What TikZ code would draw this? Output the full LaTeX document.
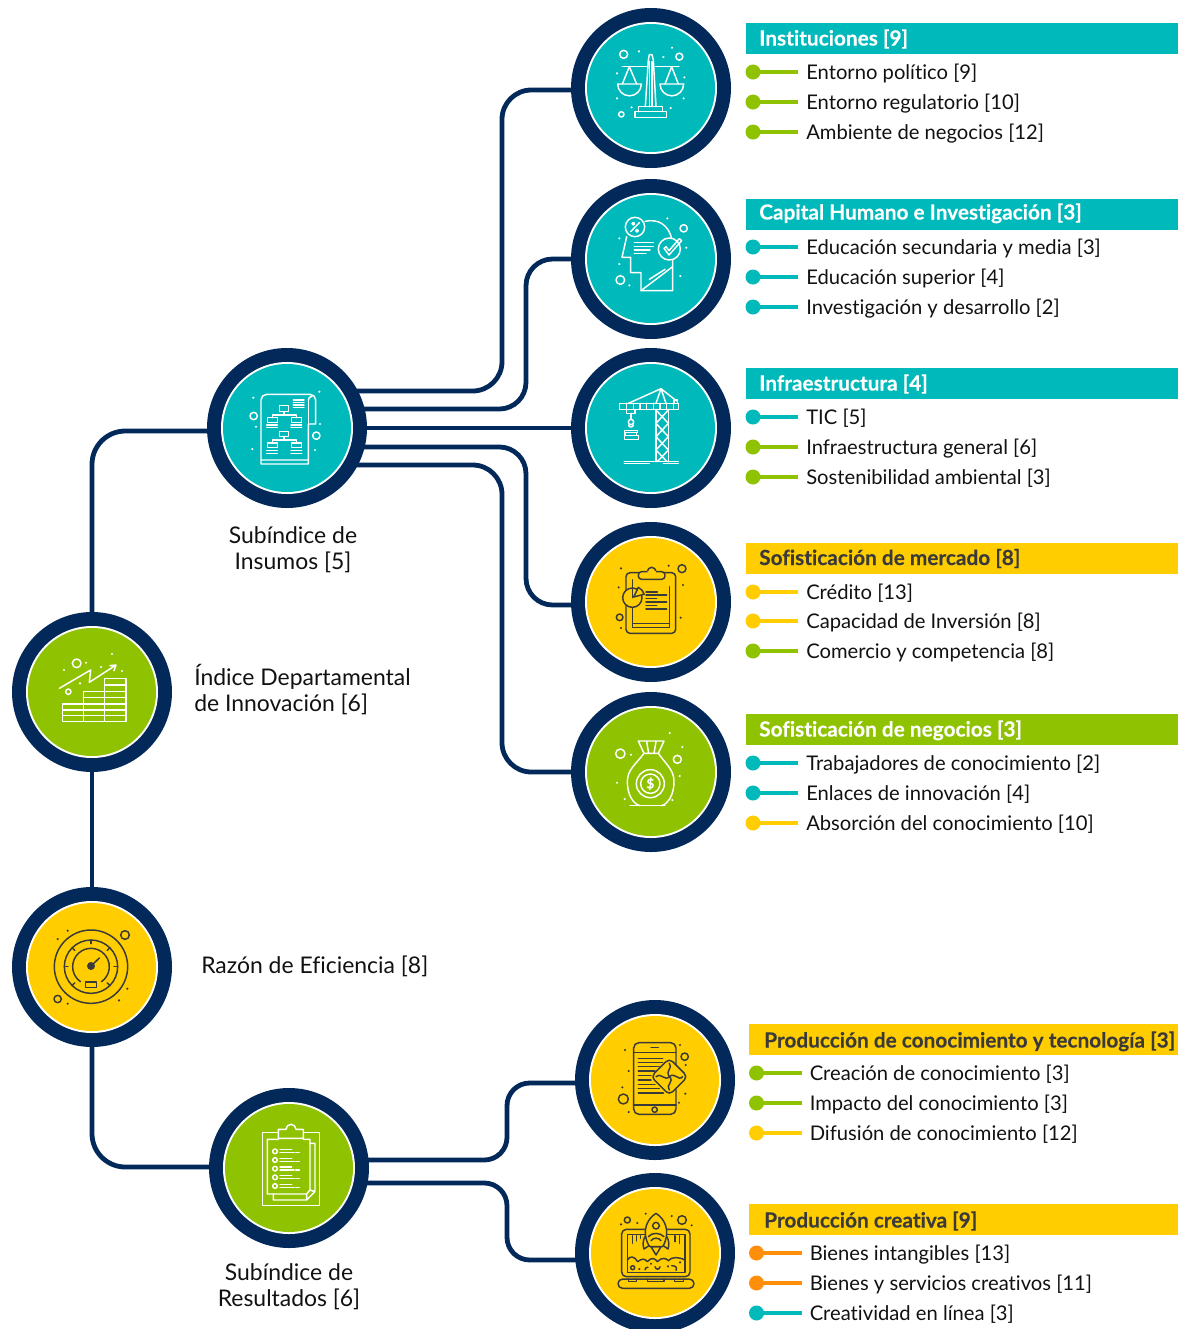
\documentclass[tikz,border=0pt]{standalone}
\usepackage{fontspec}
\setmainfont{Lato}[Ligatures=NoCommon,BoldFeatures={FakeBold=0.2}]
\usetikzlibrary{backgrounds,calc}
\definecolor{navy}{HTML}{03295A}
\definecolor{tealc}{HTML}{00B9BA}
\definecolor{yellowc}{HTML}{FFCD00}
\definecolor{greenc}{HTML}{8FC200}
\definecolor{orangec}{HTML}{FF8F0A}
\definecolor{darkc}{HTML}{3A3A3A}
\definecolor{inkc}{HTML}{111111}
\tikzset{
  discnode/.style={circle,fill=navy,inner sep=0pt,minimum size=120pt},
  conn/.style={draw=navy,line width=3.6pt,rounded corners=#1},
  conn/.default=22pt,
  hdr/.style={anchor=base west,inner sep=0pt,font=\fontsize{15.6}{18}\selectfont\bfseries},
  lst/.style={anchor=base west,inner sep=0pt,text=inkc,font=\fontsize{15.15}{18}\selectfont},
  mainlab/.style={inner sep=0pt,text=inkc,font=\fontsize{17.2}{19.5}\selectfont},
  bul/.style={circle,inner sep=0pt,minimum size=11.25pt},
  barline/.style={line width=2.8pt,shorten >=6pt},
  ic/.style={line width=1.1pt,line cap=round,line join=round},
}
\newcommand{\mydisc}[4]{% name,x,y,color
  \node[discnode] (#1) at (#2,#3) {};
  \fill[white] (#1.center) circle[radius=66];
  \fill[#4] (#1.center) circle[radius=64];
}
\newcommand{\lrow}[5]{% id,x-offset,y,color,text
  \node[bul,fill=#4] (b#1) at (753+#2,#3) {};
  \node[lst] (t#1) at (806+#2,#3+7.5) {#5};
  \draw[barline,#4] (b#1.center) -- (b#1.center -| t#1.west);
}
\newcommand{\header}[7]{% id,x,ytop,color,textcolor,text x and y,text
  \fill[#4] (#2,#3) rectangle (1178,#3+31);
  \node[hdr,text=#5] (h#1) at (#6) {#7};
}
\newcommand{\dotset}[1]{\foreach \p in {#1} \fill \p circle[radius=3.5];}
\begin{document}
\begin{tikzpicture}[x=.75pt,y=-.75pt]
\useasboundingbox (0,0) rectangle (1178,1329);
\clip (0,0) rectangle (1178,1329);

% discs
\mydisc{idx}{92}{692}{greenc}
\mydisc{raz}{92}{967}{yellowc}
\mydisc{ins}{287}{428}{tealc}
\mydisc{res}{289}{1168}{greenc}
\mydisc{inst}{651}{88}{tealc}
\mydisc{cap}{651}{259}{tealc}
\mydisc{inf}{651}{428}{tealc}
\mydisc{mer}{651}{602}{yellowc}
\mydisc{neg}{651}{772}{greenc}
\mydisc{pro}{655}{1080}{yellowc}
\mydisc{cre}{655}{1253}{yellowc}

% connectors
\begin{pgfonlayer}{background}
\draw[conn=25pt] (idx.center) -- (92,431) -- (ins.center |- 0,431);
\draw[conn=1pt] (idx.center) -- (raz.center);
\draw[conn=25pt] (raz.center) -- (92,1167) -- (res.center |- 0,1167);
\draw[conn=22pt] (ins.center |- 0,391) -- (502,391) -- (502,90) -- (inst.center |- 0,90);
\draw[conn=20pt] (ins.center |- 0,409) -- (526,409) -- (526,259) -- (cap.center);
\draw[conn=1pt] (ins.center) -- (inf.center);
\draw[conn=20pt] (ins.center |- 0,447) -- (526,447) -- (526,605) -- (mer.center |- 0,605);
\draw[conn=22pt] (ins.center |- 0,465) -- (502,465) -- (502,772) -- (neg.center);
\draw[conn=17pt] (res.center |- 0,1160) -- (507,1160) -- (507,1083) -- (pro.center |- 0,1083);
\draw[conn=17pt] (res.center |- 0,1183) -- (507,1183) -- (507,1260) -- (cre.center |- 0,1260);
\end{pgfonlayer}

% main labels
\node[mainlab,align=center] (lins) at (293,550) {Subíndice de\\Insumos [5]};
\node[mainlab,align=left,anchor=west] (lidx) at (194,690) {Índice Departamental\\de Innovación [6]};
\node[mainlab,anchor=west] (lraz) at (201,966) {Razón de Eficiencia [8]};
\node[mainlab,align=center] (lres) at (289,1287) {Subíndice de\\Resultados [6]};

% lists
\header{a}{746}{23}{tealc}{white}{759,45.5}{Instituciones [9]}
\lrow{a1}{0}{72}{greenc}{Entorno político [9]}
\lrow{a2}{0}{102}{greenc}{Entorno regulatorio [10]}
\lrow{a3}{0}{132}{greenc}{Ambiente de negocios [12]}
\header{b}{746}{199}{tealc}{white}{759,219.5}{Capital Humano e Investigación [3]}
\lrow{b1}{0}{247}{tealc}{Educación secundaria y media [3]}
\lrow{b2}{0}{277}{tealc}{Educación superior [4]}
\lrow{b3}{0}{307}{tealc}{Investigación y desarrollo [2]}
\header{c}{746}{368}{tealc}{white}{759,390.5}{Infraestructura [4]}
\lrow{c1}{0}{417}{tealc}{TIC [5]}
\lrow{c2}{0}{447}{greenc}{Infraestructura general [6]}
\lrow{c3}{0}{477}{greenc}{Sostenibilidad ambiental [3]}
\header{d}{746}{543}{yellowc}{darkc}{759,565}{Sofisticación de mercado [8]}
\lrow{d1}{0}{592}{yellowc}{Crédito [13]}
\lrow{d2}{0}{621}{yellowc}{Capacidad de Inversión [8]}
\lrow{d3}{0}{651}{greenc}{Comercio y competencia [8]}
\header{e}{746}{714}{greenc}{white}{759,736.5}{Sofisticación de negocios [3]}
\lrow{e1}{0}{763}{tealc}{Trabajadores de conocimiento [2]}
\lrow{e2}{0}{793}{tealc}{Enlaces de innovación [4]}
\lrow{e3}{0}{823}{yellowc}{Absorción del conocimiento [10]}
\header{f}{749}{1024}{yellowc}{darkc}{764,1047.5}{Producción de conocimiento y tecnología [3]}
\lrow{f1}{3.5}{1073}{greenc}{Creación de conocimiento [3]}
\lrow{f2}{3.5}{1103}{greenc}{Impacto del conocimiento [3]}
\lrow{f3}{3.5}{1133}{yellowc}{Difusión de conocimiento [12]}
\header{g}{749}{1204}{yellowc}{darkc}{764,1227.5}{Producción creativa [9]}
\lrow{g1}{3.5}{1253}{orangec}{Bienes intangibles [13]}
\lrow{g2}{3.5}{1283}{orangec}{Bienes y servicios creativos [11]}
\lrow{g3}{3.5}{1313}{tealc}{Creatividad en línea [3]}

% ---- icon: scales
\begin{scope}[shift={(570,0)},x=.25pt,y=-.25pt,ic,draw=white,fill=white]
\draw (161,163) circle[radius=12] (328,170) circle[radius=10.5] (154,343) circle[radius=8];
\dotset{(207,154),(306,143),(280,171),(141,220),(343,232),(141,295),(341,295),(185,322),(302,324)}
\draw (157,200) -- (230,200) (256,200) -- (327,200);
\draw (226,320) -- (235,180) -- (238,164) -- (246,164) -- (250,180) -- (258,320);
\draw (238,185) -- (238,320) (246,185) -- (246,320);
\draw (205,335) -- (205,320) -- (278,320) -- (278,335) (195,335) rectangle (289,352);
\draw (157,252) -- (178,200) -- (200,252) (285,252) -- (305,200) -- (325,252);
\draw (143,252) -- (214,252) arc(0:180:35.5 and 35.5) -- cycle;
\draw (270,252) -- (341,252) arc(0:180:35.5 and 35.5) -- cycle;
\end{scope}
% ---- icon: head
\begin{scope}[shift={(570,0)},x=.25pt,y=-.25pt,ic,draw=white,fill=white]
\draw (195,681) circle[radius=29] (341,685) circle[radius=11] (151,840) circle[radius=13] (298,747) circle[radius=33];
\draw (182,695) -- (208,668) (190,671) circle[radius=4] (201,692) circle[radius=4];
\dotset{(292,655),(148,715),(349,743),(148,792),(331,828),(178,856)}
\draw (225,664) .. controls (265,655) and (295,675) .. (305,715);
\draw (170,710) -- (156,772) -- (182,772) -- (182,818) -- (213,818) -- (213,872) -- (308,872) -- (308,782);
\draw (213,872) -- (308,800) (238,838) -- (285,808);
\draw (193,728) -- (250,728) (193,740) -- (250,740) (193,750) -- (240,750) (193,760) -- (228,760);
\draw (282,745) -- (297,765) -- (335,722) -- (328,716) -- (297,752) -- (288,740) -- cycle;
\end{scope}
% ---- icon: crane
\begin{scope}[shift={(570,345)},x=.25pt,y=-.25pt,ic,draw=white,fill=white]
\draw (148,175) rectangle (325,193);
\foreach \i in {170,190,...,310} \draw (\i,175) -- (\i,193);
\draw (175,175) -- (273,131) -- (258,175) (273,131) -- (288,175) (273,131) -- (320,168);
\draw (312,165) rectangle (323,175);
\draw (258,193) -- (258,350) (295,193) -- (295,350);
\draw (258,195) -- (295,235) -- (258,275) -- (295,315) -- (262,350) (295,195) -- (258,235) -- (295,275) -- (258,315) -- (291,350);
\draw (170,193) rectangle (195,205) (183,205) -- (183,222);
\draw (183,231) circle[radius=8];
\draw (176,240) arc(180:0:7 and 6);
\draw (163,256) rectangle (203,263) (165,263) rectangle (200,272) (163,272) rectangle (205,283);
\draw (163,350) -- (325,350) (163,356) -- (238,356) (280,356) -- (325,356);
\end{scope}
% ---- icon: clipboard chart
\begin{scope}[shift={(570,345)},x=.25pt,y=-.25pt,ic,draw=darkc,fill=darkc]
\draw[rounded corners=3pt] (168,683) rectangle (317,865);
\draw (188,705) -- (188,848) -- (298,848) -- (298,725) (188,835) -- (298,835);
\draw[fill=yellowc,rounded corners=2.5pt] (205,680) rectangle (285,703);
\draw[fill=yellowc] (232,680) arc(180:360:13);
\draw[draw=yellowc,line width=1.5pt] (234,681) -- (256,681);
\draw[fill=yellowc] (187,758) circle[radius=29];
\draw (187,758) -- (187,705);
\draw[fill=yellowc] (191,756) -- (205,727) arc(-65:-15:32) -- cycle;
\foreach \y/\e in {741/262,750/290,761/260,771/290,782/260,792/290} \draw (228,\y) -- (\e,\y);
\draw (336,671) circle[radius=12] (149,817) circle[radius=10];
\dotset{(153,670),(296,662),(146,727),(339,720),(332,818),(153,849)}
\end{scope}
% ---- icon: money bag
\begin{scope}[shift={(570,690)},x=.25pt,y=-.25pt,ic,draw=white,fill=white]
\draw (205,153) -- (282,153) -- (265,190) -- (222,190) -- cycle (230,155) -- (236,190) (258,155) -- (252,190);
\draw (222,190) .. controls (195,225) and (172,240) .. (172,275) .. controls (172,315) and (190,342) .. (210,347) (265,190) .. controls (290,225) and (312,240) .. (312,275) .. controls (312,315) and (294,342) .. (274,347);
\draw (241,281) circle[radius=42] (241,281) circle[radius=29];
\node[text=white,inner sep=0pt,font=\fontsize{10}{10}\selectfont\bfseries] (dollar) at (241,281) {\$};
\draw (180,347) -- (285,347);
\draw (151,191) circle[radius=14] (322,208) circle[radius=12];
\dotset{(183,194),(299,129),(337,171),(329,258),(141,278),(164,327),(307,330)}
\end{scope}
% ---- icon: index bars
\begin{scope}[shift={(0,345)},x=.25pt,y=-.25pt,ic,draw=white,fill=white]
\draw (188,1077) rectangle (250,1130) (250,1040) rectangle (314,1130) (314,1000) rectangle (378,1130);
\foreach \y in {1095,1112} \draw (188,\y) -- (378,\y);
\draw (250,1077) -- (378,1077) (250,1058) -- (378,1058) (314,1040) -- (378,1040) (314,1020) -- (378,1020);
\draw (178,1030) -- (272,975) -- (268,1012) -- (348,960) (330,962) -- (348,960) -- (342,977);
\draw (230,955) circle[radius=13] (205,1040) circle[radius=8];
\dotset{(192,975),(258,953),(336,927),(303,966),(366,978),(240,1015)}
\end{scope}
% ---- icon: document chart
\begin{scope}[shift={(0,345)},x=.25pt,y=-.25pt,ic,draw=white,fill=white]
\draw (783,357) -- (783,165) arc(180:270:17) -- (930,148) arc(270:360:17) -- (947,237) -- (925,237) -- (925,357) -- cycle (925,165) arc(180:270:11) (783,345) -- (925,345);
\foreach \y in {165,172,180,187} \draw (880,\y) -- (912,\y);
\draw (838,182) rectangle (866,200) (852,200) -- (852,210) (817,218) -- (817,210) -- (890,210) -- (890,218);
\draw (803,218) rectangle (832,232) (875,218) rectangle (904,232);
\draw (800,240) -- (832,240) (800,247) -- (832,247) (873,240) -- (905,240) (873,247) -- (905,247);
\draw (838,260) rectangle (866,274) (852,274) -- (852,285) (817,294) -- (817,285) -- (890,285) -- (890,294);
\draw (803,294) rectangle (832,308) (875,294) rectangle (904,308);
\draw (800,317) -- (832,317) (800,325) -- (832,325) (873,317) -- (905,317) (873,325) -- (905,325);
\draw (925,165) -- (925,237);
\draw (761,213) circle[radius=11] (949,272) circle[radius=11];
\dotset{(958,140),(760,158),(768,245),(960,237),(757,312),(945,315)}
\end{scope}
% ---- icon: gauge
\begin{scope}[shift={(0,880)},x=.25pt,y=-.25pt,ic,draw=darkc,fill=darkc]
\draw (273,260) circle[radius=110] (273,260) circle[radius=80];
\draw (273,260)++(125:55) arc(125:415:55);
\fill (273,258) circle[radius=12];
\draw (273,258) -- (298,234);
\draw (257,306) rectangle (289,322);
\foreach \a in {0,45,135,180,225,270,315} \draw ($(273,260)+(\a:80)$) -- ($(273,260)+(\a:69)$);
\draw (375,165) circle[radius=13] (173,357) circle[radius=11];
\dotset{(203,152),(173,177),(382,326),(357,361),(203,371)}
\end{scope}
% ---- icon: result clipboard
\begin{scope}[shift={(0,880)},x=.25pt,y=-.25pt,ic,draw=white,fill=white]
\draw (787,757) rectangle (958,977);
\draw[fill=greenc] (835,775) -- (835,748) -- (858,748) arc(180:360:15) -- (910,748) -- (910,775) -- cycle;
\draw (835,778) -- (802,778) -- (802,942) -- (920,942) -- (930,930) -- (930,778) -- (910,778);
\draw (930,790) -- (945,790) -- (945,935) -- (920,960) -- (820,960) -- (820,942) (920,960) -- (920,942) (945,935) -- (930,930);
\foreach \y in {814,840,866,892,918} {
 \draw (825,\y) circle[radius=7];
 \draw (840,\y-5) -- (875,\y-5) (840,\y+4) -- (882,\y+4) (887,\y+4) -- (898,\y+4);
}
\end{scope}
% ---- icon: phone
\begin{scope}[shift={(570,995)},x=.25pt,y=-.25pt,ic,draw=darkc,fill=darkc]
\draw[rounded corners=4pt] (191,143) rectangle (318,358);
\draw (243,157) -- (265,157) (191,172) -- (318,172) (191,330) -- (318,330);
\foreach \y/\e in {190/278,202/278,215/268,228/255,241/243,255/243,268/255,281/268,294/280} \draw (205,\y) -- (\e,\y);
\draw (254,344) circle[radius=8];
\draw[fill=yellowc,rounded corners=3.5pt] (298,190) -- (353,245) -- (298,300) -- (243,245) -- cycle;
\draw (298,205) .. controls (310,220) and (285,225) .. (298,245) .. controls (315,260) and (285,270) .. (298,285);
\draw (258,245) .. controls (270,230) and (285,260) .. (298,245) .. controls (315,230) and (325,260) .. (338,245);
\draw (344,185) circle[radius=11] (160,312) circle[radius=15];
\dotset{(165,165),(330,150),(176,228),(347,210),(157,277),(346,296),(327,323),(176,351)}
\end{scope}
% ---- icon: laptop rocket
\begin{scope}[shift={(570,995)},x=.25pt,y=-.25pt,ic,draw=darkc,fill=darkc]
\draw[rounded corners=3.5pt] (155,845) -- (155,703) -- (360,703) -- (360,845) -- cycle;
\draw (172,718) rectangle (345,832);
\draw[rounded corners=3.5pt,fill=yellowc] (144,852) rectangle (372,880);
\draw (175,852) -- (175,860) -- (200,860) -- (200,852) (233,852) -- (233,860) -- (282,860) -- (282,852) (313,852) -- (313,860) -- (340,860) -- (340,852);
\draw (172,795) .. controls (180,780) and (195,785) .. (203,800) .. controls (215,790) and (225,790) .. (232,800) .. controls (245,785) and (255,790) .. (262,800) .. controls (275,785) and (290,790) .. (295,797) .. controls (305,785) and (325,785) .. (345,795);
\foreach \x/\e in {188/745,200/738,212/730,315/740,328/745} \draw (\x,722) -- (\x,\e);
\draw[fill=yellowc] (227,722) .. controls (215,740) and (220,755) .. (222,762) -- (240,750) -- cycle;
\draw[fill=yellowc] (289,722) .. controls (300,740) and (296,755) .. (294,762) -- (277,750) -- cycle;
\draw[fill=yellowc] (243,755) -- (258,780) -- (273,755) -- cycle;
\draw[fill=yellowc] (258,655) .. controls (235,670) and (222,695) .. (227,725) .. controls (230,740) and (235,750) .. (240,755) -- (277,755) .. controls (282,750) and (286,740) .. (289,725) .. controls (294,695) and (281,670) .. (258,655) -- cycle;
\draw (258,692) circle[radius=10];
\draw (235,725) .. controls (245,712) and (270,712) .. (282,725) (243,737) .. controls (250,727) and (266,727) .. (273,737);
\draw (172,675) circle[radius=9] (336,675) circle[radius=13] (188,818) circle[radius=6];
\dotset{(227,656),(153,688),(202,684),(305,663),(365,691),(208,822),(243,806),(294,814),(330,802)}
\draw (225,824) .. controls (225,818) and (230,816) .. (234,817) (255,815) .. controls (258,825) and (268,825) .. (270,815) (305,812) .. controls (318,812) and (322,818) .. (318,826);
\end{scope}
\end{tikzpicture}
\end{document}
